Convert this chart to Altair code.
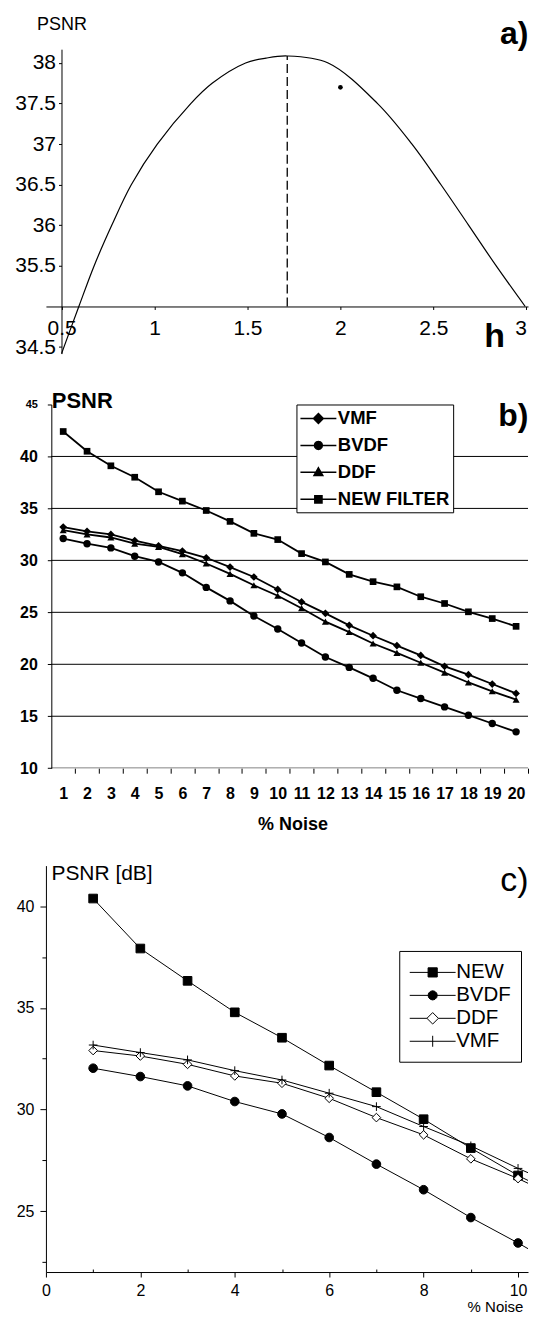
import math
import altair as alt
import pandas as pd

FONT = "Liberation Sans"
BLACK = "#000000"

# ---------------- panel a) : PSNR versus h ----------------
a_h = [0.5, 0.593, 0.675, 0.770, 0.875, 1.015, 1.195, 1.31, 1.49, 1.6, 1.714,
       1.934, 2.2, 2.385, 2.541, 2.69, 2.838, 2.994]
a_psnr = [34.42, 35.0, 35.5, 36.0, 36.5, 37.0, 37.5, 37.75, 38.0, 38.06, 38.086,
          38.0, 37.5, 37.0, 36.5, 36.0, 35.5, 35.0]
a_peak_h = [1.714]
a_peak_psnr = [38.086]
a_base_psnr = [35.0]
a_dot_h = [2.0]
a_dot_psnr = [37.70]
a_xticks = [0.5, 1, 1.5, 2, 2.5, 3]
a_yticks = [34.5, 35.5, 36, 36.5, 37, 37.5, 38]

# ---------------- panel b) ----------------
b_noise = list(range(1, 21))
b_series = ["VMF", "BVDF", "DDF", "NEW FILTER"]
b_vmf = [33.2, 32.8, 32.5, 31.9, 31.4, 30.9, 30.25, 29.35, 28.4, 27.2,
         26.0, 24.9, 23.75, 22.75, 21.8, 20.85, 19.8, 19.0, 18.1, 17.2]
b_bvdf = [32.1, 31.6, 31.2, 30.4, 29.85, 28.8, 27.4, 26.1, 24.65, 23.4,
          22.05, 20.7, 19.7, 18.65, 17.5, 16.7, 15.9, 15.1, 14.3, 13.5]
b_ddf = [32.9, 32.5, 32.2, 31.6, 31.3, 30.6, 29.7, 28.7, 27.6, 26.6,
         25.4, 24.1, 23.1, 22.0, 21.1, 20.15, 19.2, 18.25, 17.4, 16.6]
b_new = [42.4, 40.5, 39.1, 38.0, 36.6, 35.7, 34.8, 33.75, 32.6, 32.0,
         30.65, 29.85, 28.65, 27.95, 27.45, 26.5, 25.85, 25.05, 24.4, 23.65]
b_grid = [15, 20, 25, 30, 35, 40]
b_axis_base = [10]
b_grid_from = 0.5
b_grid_to = 20.5
b_yticks = [10, 15, 20, 25, 30, 35, 40, 45]
b_xticks = list(range(0, 21))

# ---------------- panel c) ----------------
c_noise = list(range(1, 12))
c_series = ["NEW", "BVDF", "DDF", "VMF"]
c_new = [40.38, 37.92, 36.33, 34.78, 33.53, 32.16, 30.85, 29.52, 28.1, 26.75, 25.6]
c_bvdf = [32.03, 31.62, 31.16, 30.39, 29.78, 28.62, 27.31, 26.05, 24.68, 23.43, 22.1]
c_ddf = [32.9, 32.63, 32.22, 31.65, 31.29, 30.55, 29.6, 28.75, 27.57, 26.6, 25.5]
c_vmf = [33.17, 32.8, 32.44, 31.91, 31.45, 30.8, 30.14, 29.16, 28.21, 27.1, 26.1]
c_xticks = [0, 2, 4, 6, 8, 10]
c_xminor = [1, 3, 5, 7, 9]
c_yticks = [25, 30, 35, 40]
c_yminor = [22.5, 27.5, 32.5, 37.5]


def ax(**kw):
    d = dict(domainColor=BLACK, tickColor=BLACK, labelColor=BLACK, titleColor=BLACK,
             grid=False, labelFont=FONT, titleFont=FONT, labelFlush=False,
             labelOverlap=False, domainWidth=1, tickWidth=1)
    d.update(kw)
    return alt.Axis(**d)


def tag_axis(text, tx, ty, size, weight):
    # an axis that only carries the panel tag as its title
    return alt.Axis(orient="top", domain=False, ticks=False, labels=False, grid=False,
                    title=text, titleX=tx, titleY=ty, titleAlign="right",
                    titleBaseline="middle", titleFontSize=size, titleFontWeight=weight,
                    titleFont=FONT, titleColor=BLACK)


def poly(cx, r, n=12):
    pts = []
    for k in range(n):
        t = 2 * math.pi * k / n
        pts.append("%.4f,%.4f" % (cx + r * math.cos(t), r * math.sin(t)))
    return "M" + "L".join(pts) + "Z"


# =============== panel a ===============
A_W, A_H = 483, 305
a_xs = alt.Scale(domain=[0.416, 3.009], nice=False, zero=False)
a_ys = alt.Scale(domain=[34.42, 38.17], nice=False, zero=False)
a_xax = ax(values=a_xticks, format=".1~f", offset=-47.2, tickSize=3, labelFontSize=21,
           labelPadding=8, labelFlush=4, title="h", titleFontSize=34,
           titleFontWeight="bold", titleX=449, titleY=40, titleAlign="center",
           titleBaseline="alphabetic")
a_yax = ax(values=a_yticks, format=".1~f", offset=-15.6, tickSize=3, labelPadding=3,
           labelFontSize=21, title="PSNR", titleAngle=0, titleX=0, titleY=-24.7,
           titleAlign="center", titleBaseline="middle", titleFontSize=18,
           titleFontWeight="normal")
a_y = alt.Y("psnr:Q", scale=a_ys, axis=a_yax)

df_a = pd.DataFrame({"h": a_h, "psnr": a_psnr})
df_peak = pd.DataFrame({"h": a_peak_h, "psnr": a_base_psnr, "top": a_peak_psnr})
df_dot = pd.DataFrame({"h": a_dot_h, "psnr": a_dot_psnr})

a_curve = alt.Chart(df_a).mark_line(color=BLACK, strokeWidth=1.2,
                                    interpolate="catmull-rom").encode(
    x=alt.X("h:Q", scale=a_xs, axis=a_xax), y=a_y)
a_dash = alt.Chart(df_peak).mark_rule(color=BLACK, strokeWidth=1.3, strokeDash=[9, 4]).encode(
    x=alt.X("h:Q", scale=a_xs, axis=None), y=a_y, y2="top:Q")
a_dotm = alt.Chart(df_dot).mark_circle(size=22, color=BLACK, opacity=1).encode(
    x=alt.X("h:Q", scale=a_xs, axis=tag_axis("a)", 483, -15.7, 32, "bold")), y=a_y)

panel_a = alt.layer(a_curve, a_dash, a_dotm).resolve_axis(x="independent").properties(
    width=A_W, height=A_H)

# =============== panel b ===============
B_W, B_H = 483, 364.4
b_xs = alt.Scale(domain=[0.275, 20.5], nice=False, zero=False)
b_ys = alt.Scale(domain=[10, 45], nice=False, zero=False)
b_half = 0.5 * B_W / (20.5 - 0.275)
b_xax = ax(values=b_xticks, domain=False, tickSize=5, tickOffset=b_half,
           labelOffset=-b_half, labelExpr="datum.value < 1 ? '' : datum.label",
           labelFontSize=16, labelFontWeight="bold", labelPadding=12, title="% Noise",
           titleFontSize=18, titleFontWeight="bold", titleX=247, titleY=56,
           titleAlign="center", titleBaseline="middle")
b_yax = ax(values=b_yticks, offset=-5.4, tickSize=4, labelPadding=10,
           labelFontSize={"condition": {"test": "datum.value == 45", "value": 11}, "value": 16},
           labelFontWeight="bold", title="PSNR", titleAngle=0, titleX=0, titleY=-3.6,
           titleAlign="left", titleBaseline="middle", titleFontSize=22,
           titleFontWeight="bold")
b_y = alt.Y("psnr:Q", scale=b_ys, axis=b_yax)

df_b = pd.DataFrame({
    "noise": b_noise * 4,
    "psnr": b_vmf + b_bvdf + b_ddf + b_new,
    "series": sum([[s] * len(b_noise) for s in b_series], []),
})
df_b["entry"] = df_b["series"]
b_rule_levels = b_axis_base + b_grid
df_bgrid = pd.DataFrame({"noise": [b_grid_from] * len(b_rule_levels),
                         "noise_end": [b_grid_to] * len(b_rule_levels),
                         "psnr": b_rule_levels})

# legend symbols: 36px line (scale 10px/unit, from -1 to 2.6) with the marker at 0.8
b_leg_paths = [
    "M-1,0H2.6M0.8,-0.49L1.29,0L0.8,0.49L0.31,0Z",
    "M-1,0H2.6" + poly(0.8, 0.4),
    "M-1,0H2.6M0.8,-0.45L1.24,0.32L0.36,0.32Z",
    "M-1,0H2.6M0.44,-0.36H1.16V0.36H0.44Z",
]
b_legend = alt.Legend(title=None, orient="none", legendX=251, legendY=0,
                      direction="vertical", symbolSize=400,
                      symbolStrokeWidth=1.5, symbolOpacity=1, labelFont=FONT,
                      labelFontSize=18.5, labelFontWeight="bold", labelColor=BLACK,
                      labelOffset=16.5, padding=3, rowPadding=6, strokeColor=BLACK,
                      fillColor="white", cornerRadius=0)

b_gridm = alt.Chart(df_bgrid).mark_rule(color=BLACK, strokeWidth=1, clip=True).encode(
    x=alt.X("noise:Q", scale=b_xs, axis=tag_axis("b)", 483, 11.4, 32, "bold")),
    x2="noise_end:Q", y=b_y)
b_lines = alt.Chart(df_b).mark_line(color=BLACK, strokeWidth=1.8).encode(
    x=alt.X("noise:Q", scale=b_xs, axis=b_xax), y=b_y, detail="series:N")
b_pts = alt.Chart(df_b).mark_point(filled=True, color=BLACK, opacity=1).encode(
    x=alt.X("noise:Q", scale=b_xs, axis=None), y=b_y,
    shape=alt.Shape("series:N", scale=alt.Scale(domain=b_series,
                    range=["diamond", "circle", "triangle-up", "square"]), legend=None),
    size=alt.Size("series:N", scale=alt.Scale(domain=b_series, range=[60, 45, 45, 45]),
                  legend=None))
b_leg = alt.Chart(df_b).mark_point(filled=True, opacity=0, strokeWidth=1.5).encode(
    x=alt.X("noise:Q", scale=b_xs, axis=None), y=b_y,
    shape=alt.Shape("entry:N", scale=alt.Scale(domain=b_series, range=b_leg_paths),
                    legend=b_legend),
    fill=alt.Fill("entry:N", scale=alt.Scale(domain=b_series, range=[BLACK] * 4),
                  legend=b_legend),
    stroke=alt.Stroke("entry:N", scale=alt.Scale(domain=b_series, range=[BLACK] * 4),
                      legend=b_legend))

panel_b = alt.layer(b_gridm, b_lines, b_pts, b_leg).resolve_scale(
    shape="independent", fill="independent", size="independent", stroke="independent"
).resolve_axis(x="independent").properties(width=B_W, height=B_H)

# =============== panel c ===============
C_W, C_H = 483, 407.2
c_xs = alt.Scale(domain=[0, 10.211], nice=False, zero=False)
c_ys = alt.Scale(domain=[22, 42], nice=False, zero=False)
c_xax = ax(values=c_xticks, tickSize=5, labelPadding=6, labelFontSize=16,
           title="% Noise", titleX=422, titleY=39.3, titleAlign="left",
           titleBaseline="alphabetic", titleFontSize=15, titleFontWeight="normal")
c_yax = ax(values=c_yticks, tickSize=6, labelPadding=6, labelFontSize=16,
           title="PSNR [dB]", titleAngle=0, titleX=5, titleY=7.5, titleAlign="left",
           titleBaseline="middle", titleFontSize=21, titleFontWeight="normal")
# minor ticks: small inward ticks on x, short outward ticks on y
c_xminor_ax = alt.Axis(orient="bottom", values=c_xminor, labels=False, domain=False,
                       tickSize=3, tickColor=BLACK, tickWidth=1, offset=-3, grid=False,
                       title=None)
c_yminor_ax = alt.Axis(orient="left", values=c_yminor, labels=False, domain=False,
                       tickSize=4, tickColor=BLACK, tickWidth=1, grid=False, title=None)

df_c = pd.DataFrame({
    "noise": c_noise * 4,
    "psnr": c_new + c_bvdf + c_ddf + c_vmf,
    "series": sum([[s] * len(c_noise) for s in c_series], []),
})
df_c["entry"] = df_c["series"]

# legend symbols: 46px line (scale 11px/unit, from -1 to 3.18) with the marker at 1.09
c_leg_paths = [
    "M-1,0H3.18M0.672,-0.418H1.508V0.418H0.672Z",
    "M-1,0H3.18" + poly(1.09, 0.418),
    "M-1,0H0.567M1.613,0H3.18M1.09,-0.523L1.613,0L1.09,0.523L0.567,0Z",
    "M-1,0H3.18M1.09,-0.5V0.5",
]
c_fills = [BLACK, BLACK, "white", BLACK]
c_legend = alt.Legend(title=None, orient="none", legendX=354, legendY=85.5,
                      direction="vertical", symbolSize=484,
                      symbolStrokeWidth=1, symbolOpacity=1, labelFont=FONT,
                      labelFontSize=20.5, labelColor=BLACK, labelOffset=24,
                      padding=10, rowPadding=1,
                      strokeColor=BLACK, fillColor="white", cornerRadius=0)

c_lines = alt.Chart(df_c).mark_line(color=BLACK, strokeWidth=1, clip=True).encode(
    x=alt.X("noise:Q", scale=c_xs, axis=c_xax),
    y=alt.Y("psnr:Q", scale=c_ys, axis=c_yax), detail="series:N")
c_pts = alt.Chart(df_c).mark_point(filled=True, stroke=BLACK, strokeWidth=1, opacity=1,
                                   clip=True).encode(
    x=alt.X("noise:Q", scale=c_xs, axis=c_xminor_ax),
    y=alt.Y("psnr:Q", scale=c_ys, axis=c_yminor_ax),
    shape=alt.Shape("series:N", scale=alt.Scale(domain=c_series,
                    range=["square", "circle", "diamond", "M-1,0H1M0,-1V1"]), legend=None),
    fill=alt.Fill("series:N", scale=alt.Scale(domain=c_series, range=c_fills), legend=None),
    size=alt.Size("series:N", scale=alt.Scale(domain=c_series, range=[75, 75, 130, 121]),
                  legend=None))
c_leg = alt.Chart(df_c).mark_point(filled=True, opacity=0, strokeWidth=1, clip=True).encode(
    x=alt.X("noise:Q", scale=c_xs, axis=tag_axis("c)", 483, 14.5, 34, "normal")),
    y=alt.Y("psnr:Q", scale=c_ys, axis=None),
    shape=alt.Shape("entry:N", scale=alt.Scale(domain=c_series, range=c_leg_paths),
                    legend=c_legend),
    fill=alt.Fill("entry:N", scale=alt.Scale(domain=c_series, range=c_fills),
                  legend=c_legend),
    stroke=alt.Stroke("entry:N", scale=alt.Scale(domain=c_series, range=[BLACK] * 4),
                      legend=c_legend))

panel_c = alt.layer(c_lines, c_pts, c_leg).resolve_scale(
    shape="independent", fill="independent", size="independent", stroke="independent"
).resolve_axis(x="independent", y="independent").properties(width=C_W, height=C_H)


def spacer(h):
    return alt.Chart(pd.DataFrame({"s": [0]})).mark_point(opacity=0).encode(
        x=alt.X("s:Q", axis=None), y=alt.Y("s:Q", axis=None)).properties(width=1, height=h)


chart = alt.vconcat(panel_a, spacer(10.4), panel_b, spacer(56.5), panel_c,
                    spacing=20, bounds="flush").properties(
    padding={"left": 6, "top": 6, "right": 0, "bottom": 0},
    background="white",
).configure(font=FONT).configure_view(strokeWidth=0, stroke="transparent")

chart.save("out.html", embed_options={"renderer": "svg", "actions": False})
